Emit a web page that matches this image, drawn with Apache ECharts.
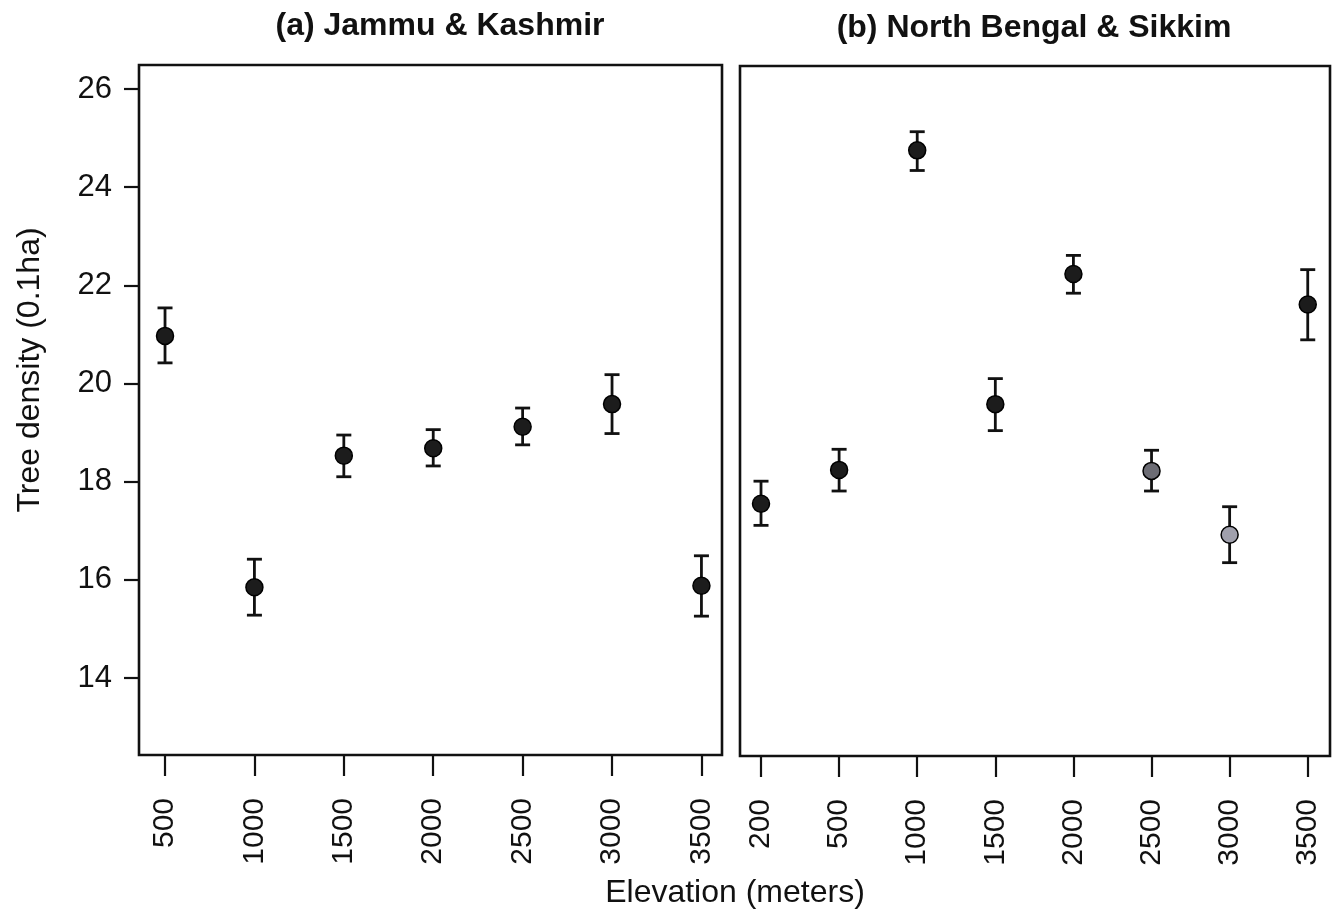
<!DOCTYPE html>
<html>
<head>
<meta charset="utf-8">
<script src="https://cdn.jsdelivr.net/npm/echarts@6/dist/echarts.min.js"></script>
<style>
  html, body { margin: 0; padding: 0; background: #fff; }
  #chart { width: 1339px; height: 915px; }
</style>
</head>
<body>
<div id="chart"></div>
<script>
// Elevation classes for each region
const elevJK = ['500', '1000', '1500', '2000', '2500', '3000', '3500'];
const elevNB = ['200', '500', '1000', '1500', '2000', '2500', '3000', '3500'];

// Mean tree density (per 0.1 ha) with lower / upper error limits
const meanJK = [20.97, 15.85, 18.53, 18.68, 19.12, 19.58, 15.88];
const lowJK  = [20.42, 15.28, 18.10, 18.32, 18.75, 18.98, 15.26];
const highJK = [21.54, 16.42, 18.95, 19.06, 19.50, 20.18, 16.49];

const meanNB = [17.57, 18.26, 24.77, 19.60, 22.25, 18.24, 16.94, 21.63];
const lowNB  = [17.13, 17.83, 24.36, 19.06, 21.86, 17.83, 16.37, 20.91];
const highNB = [18.03, 18.68, 25.15, 20.12, 22.63, 18.66, 17.51, 22.34];

// Point fill shades for the North Bengal & Sikkim panel
const shadeNB = ['#1c1c1c', '#1c1c1c', '#1c1c1c', '#1c1c1c', '#1c1c1c', '#6c6c74', '#a0a0ac', '#1c1c1c'];

const yTicks = [14, 16, 18, 20, 22, 24, 26];

const FONT = '"Liberation Sans", Arial, Helvetica, sans-serif';
const chart = echarts.init(document.getElementById('chart'), null, { renderer: 'canvas' });

function errorBarSeries(gridIdx, lows, highs) {
  return {
    type: 'custom',
    xAxisIndex: gridIdx,
    yAxisIndex: gridIdx,
    z: 2,
    silent: true,
    data: lows.map((lo, i) => [i, lo, highs[i]]),
    renderItem: function (params, api) {
      const lo = api.coord([api.value(0), api.value(1)]);
      const hi = api.coord([api.value(0), api.value(2)]);
      const half = 7.5;
      const st = { stroke: '#111', lineWidth: 2.8 };
      return {
        type: 'group',
        children: [
          { type: 'line', shape: { x1: lo[0], y1: lo[1], x2: hi[0], y2: hi[1] }, style: st },
          { type: 'line', shape: { x1: lo[0] - half, y1: lo[1], x2: lo[0] + half, y2: lo[1] }, style: st },
          { type: 'line', shape: { x1: hi[0] - half, y1: hi[1], x2: hi[0] + half, y2: hi[1] }, style: st }
        ]
      };
    }
  };
}

function xAxisFor(gridIdx, cats, min, max) {
  const idx = cats.map((c, i) => i);
  return {
    type: 'value',
    gridIndex: gridIdx,
    min: min,
    max: max,
    splitLine: { show: false },
    axisLine: { show: false, onZero: false },
    axisTick: { show: true, customValues: idx, length: 21, lineStyle: { color: '#111', width: 2.2 } },
    axisLabel: {
      show: true,
      customValues: idx,
      rotate: 90,
      margin: 43,
      fontFamily: FONT,
      fontSize: 30,
      color: '#111',
      formatter: v => cats[Math.round(v)]
    }
  };
}

function yAxisFor(gridIdx, showLabels) {
  return {
    type: 'value',
    gridIndex: gridIdx,
    min: 12.431,
    max: 26.489,
    splitLine: { show: false },
    axisLine: { show: false, onZero: false },
    axisTick: { show: showLabels, customValues: yTicks, length: 15, lineStyle: { color: '#111', width: 2.2 } },
    axisLabel: {
      show: showLabels,
      customValues: yTicks,
      margin: 27,
      fontFamily: FONT,
      fontSize: 31,
      color: '#111'
    }
  };
}

const option = {
  backgroundColor: '#ffffff',
  animation: false,
  grid: [
    { left: 139, top: 65, width: 583, height: 690, show: true, borderColor: '#111', borderWidth: 2.6, backgroundColor: 'transparent' },
    { left: 740, top: 66, width: 590, height: 690, show: true, borderColor: '#111', borderWidth: 2.6, backgroundColor: 'transparent' }
  ],
  xAxis: [
    xAxisFor(0, elevJK, -0.291, 6.23),
    xAxisFor(1, elevNB, -0.269, 7.285)
  ],
  yAxis: [
    yAxisFor(0, true),
    yAxisFor(1, false)
  ],
  graphic: [
    {
      type: 'text', x: 440, y: 26,
      style: { text: '(a) Jammu & Kashmir', fontFamily: FONT, fontWeight: 'bold', fontSize: 32, fill: '#111', textAlign: 'center', textVerticalAlign: 'middle' }
    },
    {
      type: 'text', x: 1034, y: 28,
      style: { text: '(b) North Bengal & Sikkim', fontFamily: FONT, fontWeight: 'bold', fontSize: 32, fill: '#111', textAlign: 'center', textVerticalAlign: 'middle' }
    },
    {
      type: 'text', x: 735, y: 893,
      style: { text: 'Elevation (meters)', fontFamily: FONT, fontSize: 32, fill: '#111', textAlign: 'center', textVerticalAlign: 'middle' }
    },
    {
      type: 'text', x: 30, y: 370, rotation: Math.PI / 2,
      style: { text: 'Tree density (0.1ha)', fontFamily: FONT, fontSize: 32, fill: '#111', textAlign: 'center', textVerticalAlign: 'middle' }
    }
  ],
  series: [
    errorBarSeries(0, lowJK, highJK),
    errorBarSeries(1, lowNB, highNB),
    {
      type: 'scatter',
      xAxisIndex: 0,
      yAxisIndex: 0,
      z: 3,
      symbol: 'circle',
      symbolSize: 17,
      itemStyle: { color: '#1c1c1c', borderColor: '#000', borderWidth: 1.5, opacity: 1 },
      data: meanJK.map((v, i) => [i, v])
    },
    {
      type: 'scatter',
      xAxisIndex: 1,
      yAxisIndex: 1,
      z: 3,
      symbol: 'circle',
      symbolSize: 17,
      data: meanNB.map((v, i) => ({
        value: [i, v],
        itemStyle: { color: shadeNB[i], borderColor: '#000', borderWidth: 1.5, opacity: 1 }
      }))
    }
  ]
};

chart.setOption(option);
</script>
</body>
</html>
